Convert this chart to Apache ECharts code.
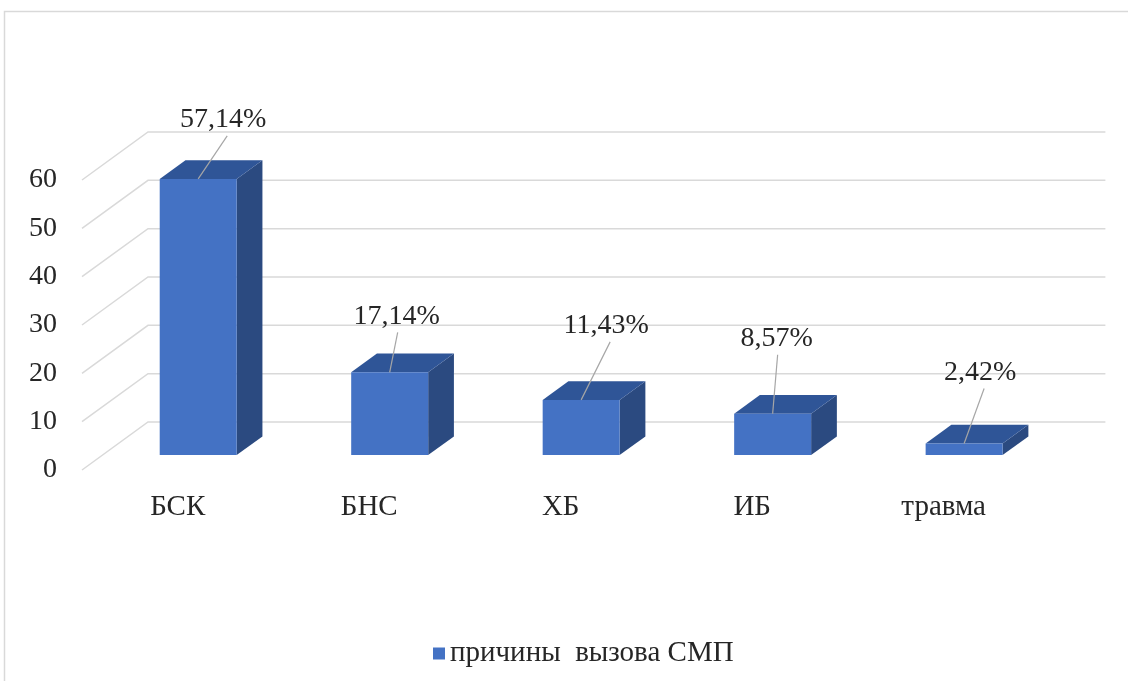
<!DOCTYPE html>
<html><head><meta charset="utf-8">
<script src="https://cdn.jsdelivr.net/npm/echarts@6/dist/echarts.min.js"></script>
<style>html,body{margin:0;padding:0;background:#fff}#c{width:1128px;height:681px}</style>
</head><body><div id="c"></div>
<script>
const categories = ['БСК', 'БНС', 'ХБ', 'ИБ', 'травма'];
const values = [57.14, 17.14, 11.43, 8.57, 2.42];
const valueLabels = ['57,14%', '17,14%', '11,43%', '8,57%', '2,42%'];
const yTicks = [0, 10, 20, 30, 40, 50, 60];
const seriesName = 'причины  вызова СМП';

// layout constants (not data)
const DEPTH_X = 66, DEPTH_Y = 48;
const F1 = 0.31, F2 = 0.70;
const labelNudge = [[25, -59], [7, -56], [25, -74], [4, -75], [16, -71]];
const FONT = '"Liberation Serif", "Times New Roman", serif';
const TXT = '#262626';

const chart = echarts.init(document.getElementById('c'));
chart.setOption({
  animation: false,
  graphic: [{type: 'rect', shape: {x: 4.5, y: 11.5, width: 1200, height: 800}, style: {fill: 'none', stroke: '#d9d9d9', lineWidth: 1.5}, z: -10}],
  grid: {left: 82, right: 88.6, top: 180, bottom: 211},
  xAxis: {type: 'category', data: categories,
    axisLine: {show: false}, axisTick: {show: false}, splitLine: {show: false},
    axisLabel: {fontFamily: FONT, fontSize: 29, color: TXT, margin: 23}},
  yAxis: {type: 'value', min: 0, max: 60, interval: 10,
    axisLine: {show: false}, axisTick: {show: false}, splitLine: {show: false},
    axisLabel: {fontFamily: FONT, fontSize: 28, color: TXT, margin: 25}},
  legend: {left: 428, top: 634, icon: 'rect', itemWidth: 12, itemHeight: 12, itemGap: 6,
    textStyle: {fontFamily: FONT, fontSize: 29, color: TXT},
    data: [seriesName]},
  series: [
    {type: 'custom', name: 'grid3d', silent: true, z: 1,
      data: yTicks.map(v => [0, v]),
      renderItem: function (params, api) {
        const p = api.coord([0, api.value(1)]);
        const x0 = params.coordSys.x;
        const y0 = p[1];
        return {type: 'polyline', shape: {points: [[x0, y0], [x0 + DEPTH_X, y0 - DEPTH_Y], [x0 + params.coordSys.width + DEPTH_X, y0 - DEPTH_Y]]},
          style: {stroke: '#d9d9d9', lineWidth: 1.5, fill: null}};
      }},
    {type: 'custom', name: seriesName, z: 5,
      itemStyle: {color: '#4472C4'},
      data: values.map((v, i) => [i, v]),
      renderItem: function (params, api) {
        const i = api.value(0), v = api.value(1);
        const c = api.coord([i, 0]);
        const t = api.coord([i, v]);
        const bw = api.size([1, 0])[0] * 0.402;
        const x0 = c[0] - bw / 2 + F1 * DEPTH_X, x1 = x0 + bw;
        const yb = c[1] - F1 * DEPTH_Y, yt = t[1] - F1 * DEPTH_Y;
        const dx = (F2 - F1) * DEPTH_X, dy = (F2 - F1) * DEPTH_Y;
        const lx = (x0 + x1) / 2, ly = yt;
        const n = labelNudge[i];
        const tx = lx + n[0], ty = ly + n[1];
        return {type: 'group', children: [
          {type: 'polygon', shape: {points: [[x1, yt], [x1 + dx, yt - dy], [x1 + dx, yb - dy], [x1, yb]]}, style: {fill: '#2B4A80'}},
          {type: 'polygon', shape: {points: [[x0, yt], [x1, yt], [x1 + dx, yt - dy], [x0 + dx, yt - dy]]}, style: {fill: '#2F5597'}},
          {type: 'rect', shape: {x: x0, y: yt, width: bw, height: yb - yt}, style: {fill: '#4472C4'}},
          {type: 'line', shape: {x1: tx + (n[0] > 10 ? 4 : 1), y1: ty + 16, x2: lx, y2: ly}, style: {stroke: '#a6a6a6', lineWidth: 1.2}},
          {type: 'text', x: tx, y: ty, style: {text: valueLabels[i], font: '28px ' + FONT, fill: TXT, align: 'center', verticalAlign: 'middle'}}
        ]};
      }}
  ]
});
</script></body></html>
